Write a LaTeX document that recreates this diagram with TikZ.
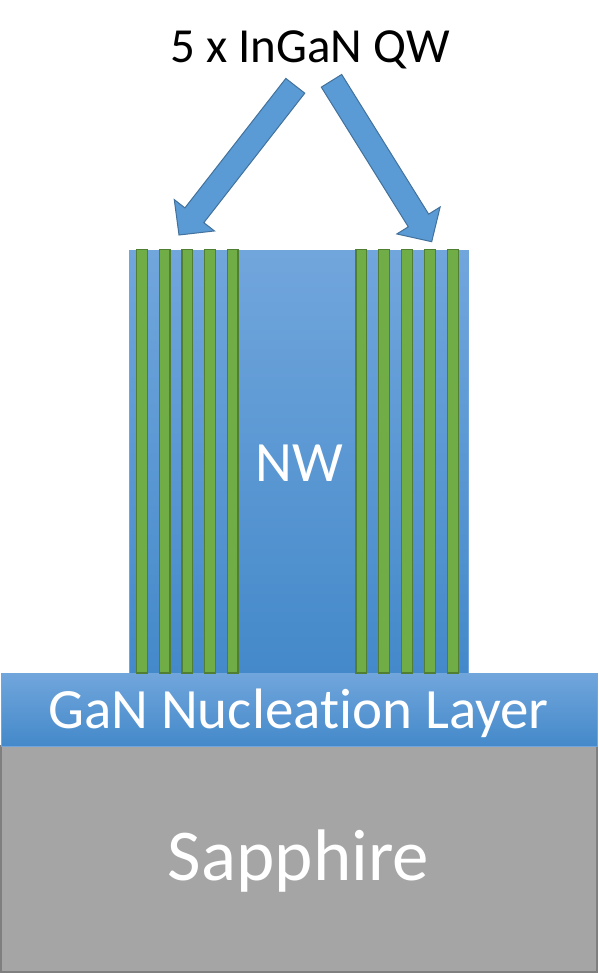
\documentclass[tikz,border=0pt]{standalone}
\usepackage{fontspec}
\setmainfont{Carlito}[Ligatures=NoCommon]
\usetikzlibrary{calc}

\definecolor{nwtop}{RGB}{113,166,220}
\definecolor{nwbot}{RGB}{68,137,202}
\definecolor{arrowfill}{RGB}{91,155,213}
\definecolor{arrowline}{RGB}{65,113,156}
\definecolor{qwfill}{RGB}{112,173,71}
\definecolor{qwline}{RGB}{80,126,50}
\definecolor{sapfill}{RGB}{165,165,165}
\definecolor{sapline}{RGB}{127,127,127}

\begin{document}
\begin{tikzpicture}[x=1pt, y=-1pt]
    \tikzstyle{layer} = [top color=nwtop, bottom color=nwbot, draw=nwtop, line width=0.8pt]
    \tikzstyle{qw} = [fill=qwfill, draw=qwline, line width=1.2pt]
    \tikzstyle{bigarrow} = [fill=arrowfill, draw=arrowline, line width=1pt, line join=miter]
    \tikzstyle{label} = [inner sep=0pt, anchor=base, text=white]

    \useasboundingbox (0,0) rectangle (598,974);

    % Substrate and nucleation layer
    \filldraw[fill=sapfill, draw=sapline, line width=1.2pt] (1,746) rectangle (597,972);
    \node[label, font=\fontsize{73}{78}\selectfont] (sapphire) at (298.5,880) {Sapphire};
    \fill[layer] (1,673) rectangle (597,746);
    \node[label, font=\fontsize{57}{62}\selectfont] (nucl) at (298.5,728.3) {GaN Nucleation Layer};

    % Nanowire
    \fill[layer] (129,250) rectangle (468,673);
    \node[label, font=\fontsize{57}{62}\selectfont] (nw) at (299,481.7) {NW};

    % Quantum wells
    \foreach \x in {0,...,4} {
        \draw[qw] (136.7+22.65*\x,249.5) rectangle ++(10.6,423.5);
        \draw[qw] (355.9+22.9*\x,249.5) rectangle ++(10.6,423.5);
    }

    % Label and arrows
    \node[inner sep=0pt, anchor=base, font=\fontsize{49}{54}\selectfont] (qwlabel) at (310,63) {5 x InGaN QW};
    \coordinate (tailL) at (295.3,85.8);
    \coordinate (tipL) at (179,235);
    \coordinate (tailR) at (331.5,80.8);
    \coordinate (tipR) at (431.7,241.7);
    \foreach \t/\p in {tailL/tipL, tailR/tipR} {
        \coordinate (base) at ($(\p)!25pt!(\t)$);
        \draw[bigarrow] ($(\t)!12pt!90:(\p)$) -- ($(base)!12pt!90:(\p)$)
            -- ($(base)!25.5pt!90:(\p)$) -- (\p) -- ($(base)!25.5pt!-90:(\p)$)
            -- ($(base)!12pt!-90:(\p)$) -- ($(\t)!12pt!-90:(\p)$) -- cycle;
    }
\end{tikzpicture}
\end{document}
